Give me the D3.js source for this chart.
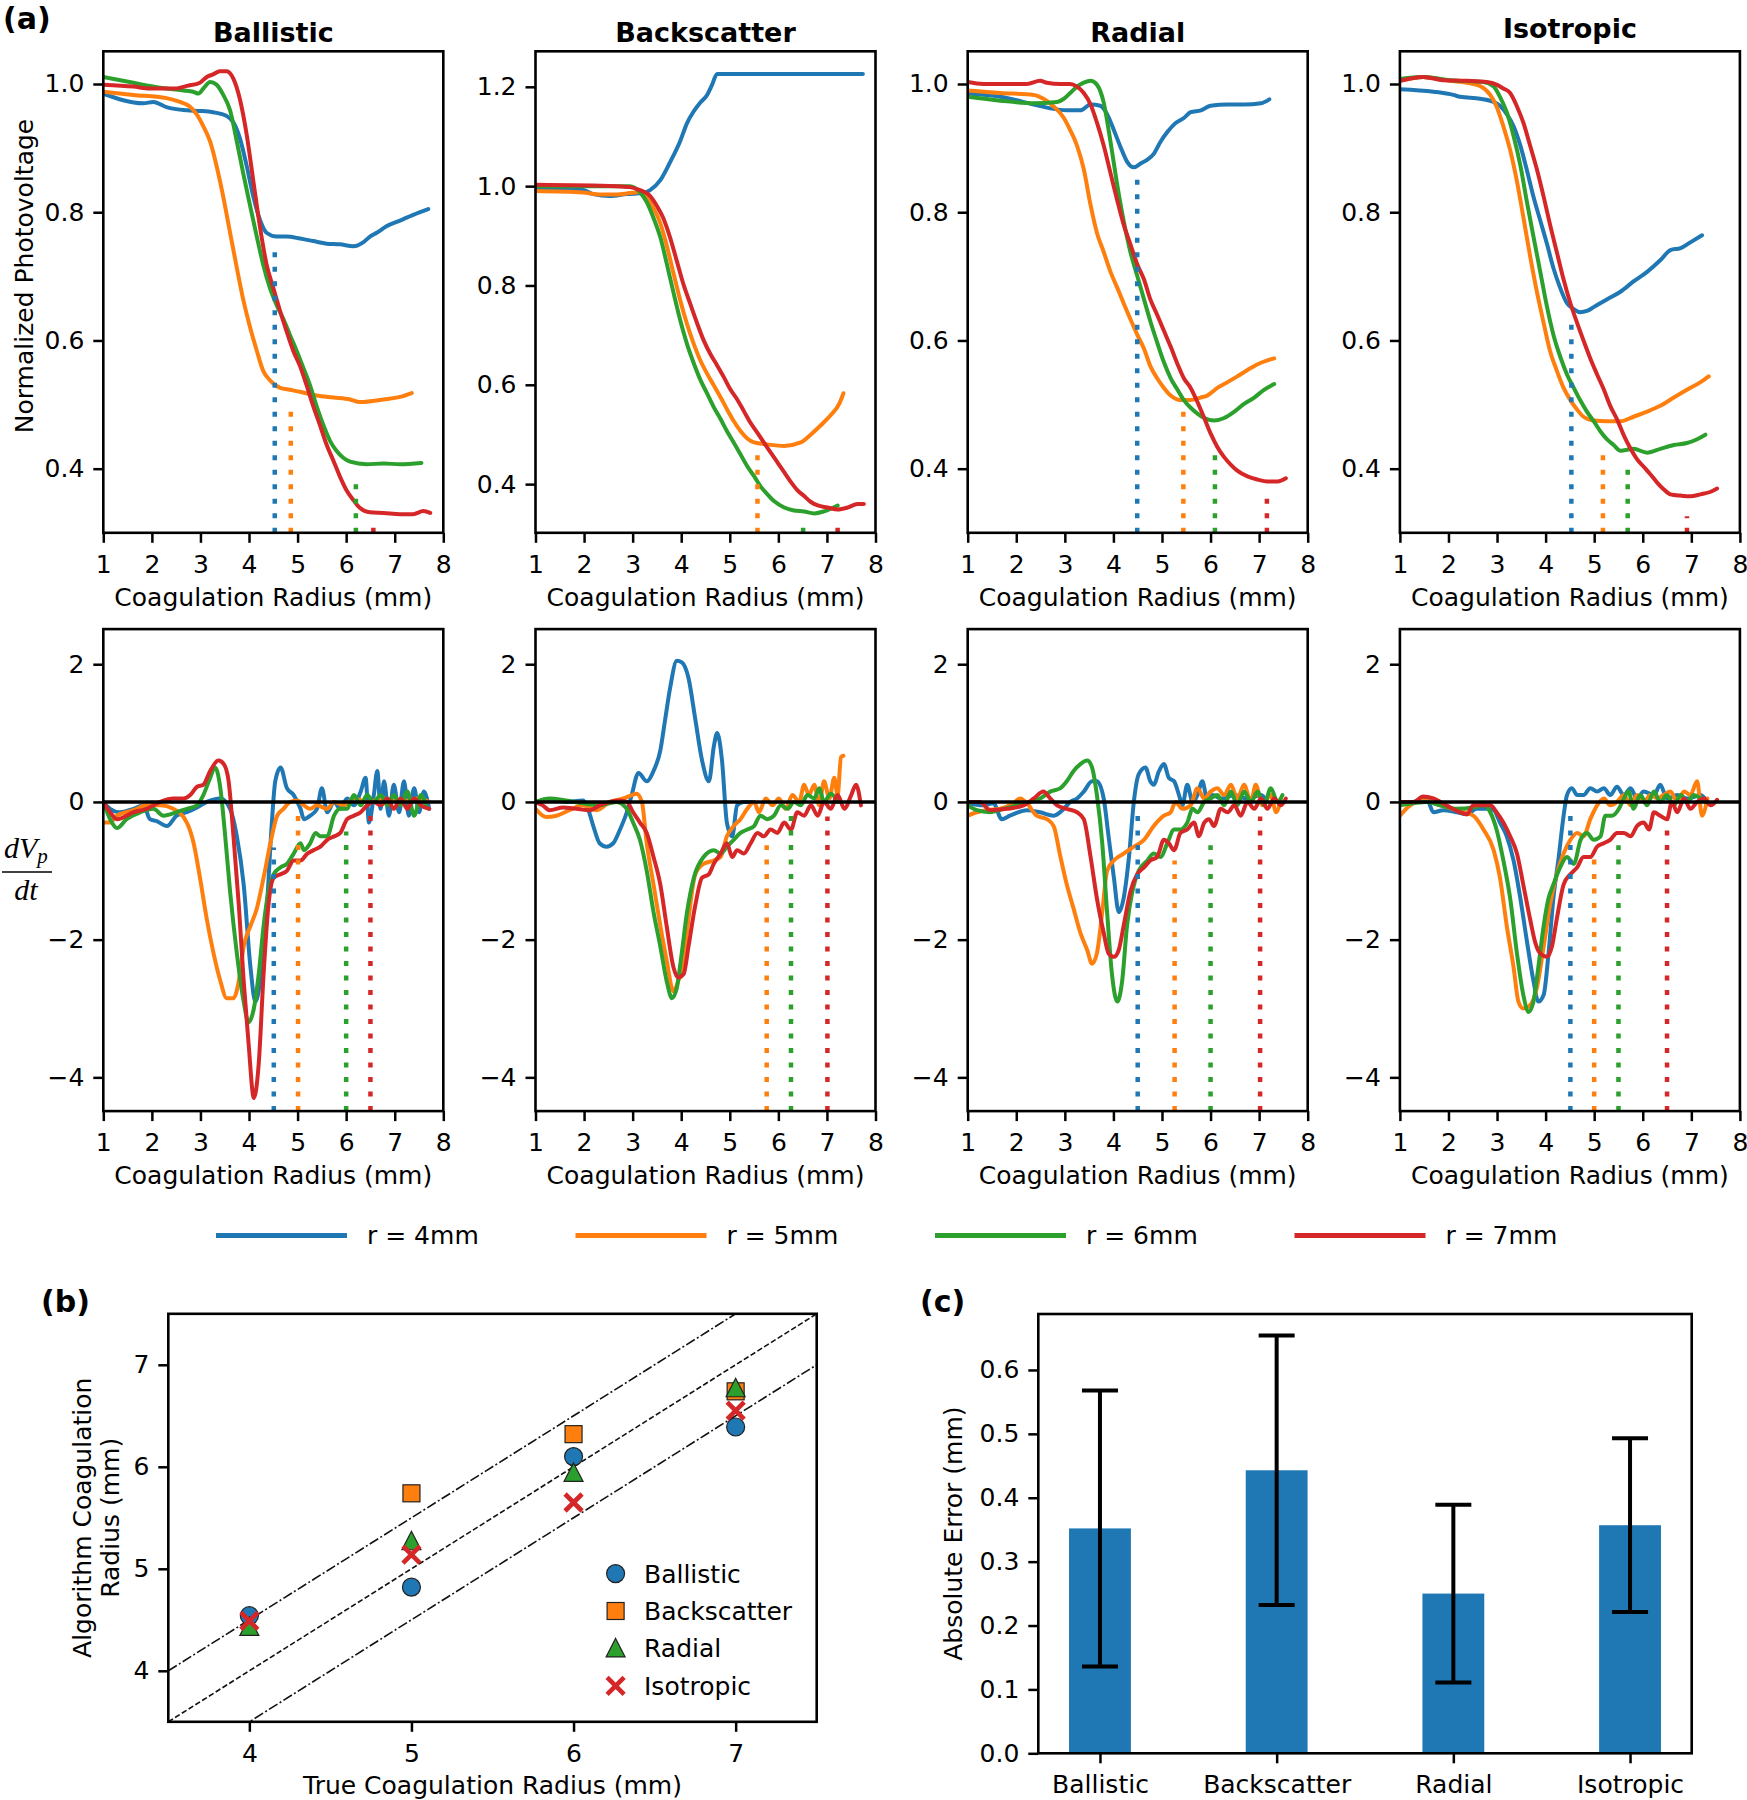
<!DOCTYPE html>
<html><head><meta charset="utf-8">
<script src="https://cdn.jsdelivr.net/npm/d3@7"></script>
<style>body{margin:0;background:#fff}</style>
</head><body>
<svg id="c" width="1747" height="1800" xmlns="http://www.w3.org/2000/svg"></svg>
<script>
// ---------------- DATA ----------------
const colors = ["#1f77b4","#ff7f0e","#2ca02c","#d62728"];
const seriesLabels = ["r = 4mm","r = 5mm","r = 6mm","r = 7mm"];
const methods = ["Ballistic","Backscatter","Radial","Isotropic"];
const radiusTicks = [1,2,3,4,5,6,7,8];
const radiusDomain = [1,8];

// normalized photovoltage (top row)
const vBallistic4 = [[1,0.985],[1.82,0.97],[2.03,0.972],[2.3,0.964],[2.72,0.959],[2.99,0.958],[3.26,0.956],[3.54,0.95],[3.68,0.94],[3.81,0.916],[3.95,0.873],[4.09,0.824],[4.23,0.787],[4.36,0.768],[4.57,0.762],[4.77,0.762],[5.05,0.759],[5.32,0.755],[5.6,0.751],[5.87,0.75],[6.15,0.747],[6.35,0.753],[6.49,0.762],[6.63,0.768],[6.83,0.778],[7.11,0.787],[7.38,0.796],[7.69,0.805]];
const vBallistic5 = [[1,0.988],[1.62,0.983],[2.3,0.978],[2.58,0.972],[2.78,0.965],[2.92,0.953],[3.06,0.934],[3.2,0.91],[3.33,0.873],[3.47,0.824],[3.61,0.768],[3.75,0.713],[3.88,0.664],[4.02,0.621],[4.16,0.584],[4.29,0.553],[4.43,0.538],[4.64,0.526],[4.84,0.523],[5.05,0.52],[5.39,0.514],[5.74,0.511],[6.08,0.508],[6.28,0.504],[6.77,0.508],[7.11,0.512],[7.35,0.518]];
const vBallistic6 = [[1,1.011],[1.62,1.002],[1.96,0.997],[2.3,0.993],[2.65,0.99],[2.85,0.988],[2.96,0.985],[3.06,0.993],[3.2,1.003],[3.33,0.999],[3.47,0.983],[3.61,0.959],[3.75,0.91],[3.88,0.861],[4.02,0.811],[4.16,0.762],[4.29,0.719],[4.43,0.682],[4.57,0.655],[4.71,0.633],[4.84,0.609],[4.98,0.584],[5.12,0.557],[5.26,0.529],[5.39,0.498],[5.53,0.468],[5.67,0.443],[5.8,0.428],[5.94,0.417],[6.08,0.411],[6.42,0.407],[6.77,0.408],[7.11,0.407],[7.55,0.409]];
const vBallistic7 = [[1,0.999],[1.62,0.996],[1.96,0.993],[2.51,0.993],[2.72,0.997],[2.99,1.002],[3.13,1.011],[3.26,1.015],[3.4,1.02],[3.54,1.02],[3.68,1.008],[3.81,0.977],[3.95,0.922],[4.09,0.848],[4.23,0.775],[4.36,0.719],[4.5,0.682],[4.64,0.646],[4.77,0.615],[4.91,0.584],[5.05,0.56],[5.19,0.529],[5.32,0.498],[5.46,0.468],[5.6,0.437],[5.74,0.412],[5.87,0.388],[6.01,0.366],[6.15,0.351],[6.28,0.339],[6.49,0.332],[6.77,0.331],[7.11,0.329],[7.38,0.329],[7.59,0.334],[7.73,0.331]];

const vBackscatter4 = [[1,0.995],[1.98,0.992],[2.19,0.984],[2.53,0.98],[2.88,0.984],[3.22,0.986],[3.36,0.992],[3.57,1.012],[3.77,1.048],[3.98,1.091],[4.12,1.127],[4.26,1.151],[4.39,1.168],[4.53,1.183],[4.63,1.203],[4.74,1.226],[7.74,1.226]];
const vBackscatter5 = [[1,0.99],[1.98,0.987],[2.32,0.983],[2.67,0.983],[2.94,0.986],[3.15,0.988],[3.29,0.976],[3.43,0.956],[3.57,0.925],[3.7,0.881],[3.84,0.825],[3.98,0.77],[4.12,0.722],[4.26,0.682],[4.39,0.65],[4.53,0.623],[4.67,0.599],[4.81,0.575],[4.94,0.551],[5.08,0.527],[5.22,0.507],[5.36,0.492],[5.5,0.484],[5.77,0.48],[6.12,0.477],[6.46,0.484],[6.67,0.5],[6.88,0.519],[7.08,0.539],[7.26,0.563],[7.34,0.583]];
const vBackscatter6 = [[1,1.0],[2.67,1.0],[2.94,1.0],[3.15,0.988],[3.29,0.968],[3.43,0.936],[3.57,0.897],[3.7,0.845],[3.84,0.786],[3.98,0.73],[4.12,0.682],[4.26,0.643],[4.39,0.611],[4.53,0.583],[4.67,0.555],[4.81,0.531],[4.94,0.507],[5.08,0.484],[5.22,0.46],[5.36,0.436],[5.5,0.416],[5.63,0.396],[5.77,0.38],[5.91,0.366],[6.12,0.353],[6.32,0.347],[6.53,0.345],[6.74,0.341],[6.94,0.345],[7.22,0.357]];
const vBackscatter7 = [[1,1.003],[2.67,1.0],[2.94,0.998],[3.15,0.992],[3.36,0.98],[3.5,0.96],[3.63,0.936],[3.77,0.897],[3.91,0.849],[4.05,0.801],[4.19,0.762],[4.32,0.726],[4.46,0.69],[4.6,0.662],[4.74,0.639],[4.88,0.615],[5.01,0.591],[5.15,0.571],[5.29,0.547],[5.43,0.523],[5.57,0.503],[5.7,0.484],[5.84,0.464],[5.98,0.444],[6.12,0.424],[6.26,0.404],[6.39,0.388],[6.53,0.376],[6.67,0.364],[6.81,0.357],[7.01,0.353],[7.22,0.349],[7.43,0.353],[7.63,0.36],[7.76,0.36]];

const vRadial4 = [[1,0.985],[1.67,0.98],[2.36,0.968],[2.7,0.962],[3.04,0.959],[3.32,0.959],[3.53,0.968],[3.73,0.966],[3.87,0.953],[4.01,0.928],[4.15,0.901],[4.28,0.879],[4.42,0.87],[4.56,0.876],[4.7,0.882],[4.83,0.891],[4.97,0.91],[5.11,0.925],[5.25,0.937],[5.45,0.947],[5.59,0.956],[5.8,0.959],[6.0,0.966],[6.35,0.968],[6.69,0.968],[7.04,0.97],[7.21,0.976]];
const vRadial5 = [[1,0.99],[1.67,0.986],[2.36,0.983],[2.56,0.977],[2.77,0.965],[2.98,0.947],[3.11,0.928],[3.25,0.904],[3.39,0.867],[3.53,0.811],[3.66,0.768],[3.8,0.738],[3.94,0.707],[4.08,0.682],[4.21,0.658],[4.35,0.633],[4.49,0.609],[4.63,0.587],[4.76,0.56],[4.9,0.541],[5.04,0.526],[5.18,0.514],[5.38,0.507],[5.59,0.507],[5.8,0.511],[5.93,0.514],[6.14,0.526],[6.35,0.535],[6.55,0.544],[6.76,0.554],[6.97,0.563],[7.17,0.569],[7.31,0.572]];
const vRadial6 = [[1,0.98],[1.67,0.974],[2.36,0.97],[2.84,0.972],[2.98,0.977],[3.11,0.986],[3.25,0.996],[3.39,1.002],[3.53,1.005],[3.66,0.999],[3.8,0.971],[3.94,0.91],[4.08,0.842],[4.21,0.787],[4.35,0.738],[4.49,0.701],[4.63,0.664],[4.76,0.63],[4.9,0.597],[5.04,0.566],[5.18,0.541],[5.32,0.523],[5.45,0.507],[5.59,0.495],[5.73,0.486],[5.87,0.479],[6.07,0.475],[6.28,0.479],[6.49,0.489],[6.69,0.501],[6.9,0.511],[7.1,0.523],[7.31,0.532]];
const vRadial7 = [[1,1.003],[1.32,1.0],[2.22,1.0],[2.49,1.005],[2.63,1.002],[2.91,1.0],[3.11,1.0],[3.25,0.996],[3.39,0.986],[3.53,0.968],[3.66,0.94],[3.8,0.904],[3.94,0.861],[4.08,0.818],[4.21,0.781],[4.35,0.75],[4.49,0.719],[4.63,0.695],[4.76,0.664],[4.9,0.64],[5.04,0.615],[5.18,0.59],[5.32,0.563],[5.45,0.541],[5.59,0.526],[5.73,0.504],[5.87,0.479],[6.0,0.455],[6.14,0.434],[6.28,0.418],[6.42,0.406],[6.55,0.397],[6.76,0.388],[6.97,0.383],[7.17,0.38],[7.38,0.38],[7.55,0.385]];

const vIsotropic4 = [[1,0.992],[1.69,0.988],[2.1,0.983],[2.24,0.98],[2.65,0.977],[2.93,0.972],[3.06,0.966],[3.2,0.953],[3.34,0.934],[3.48,0.904],[3.61,0.867],[3.75,0.824],[3.89,0.787],[4.03,0.75],[4.16,0.713],[4.3,0.682],[4.44,0.658],[4.58,0.649],[4.71,0.644],[4.85,0.646],[4.99,0.652],[5.26,0.664],[5.54,0.676],[5.81,0.692],[6.09,0.707],[6.36,0.725],[6.57,0.741],[6.78,0.744],[6.98,0.753],[7.22,0.764]];
const vIsotropic5 = [[1,1.005],[1.48,1.011],[2.03,1.005],[2.38,1.002],[2.65,0.997],[2.86,0.983],[2.99,0.965],[3.13,0.934],[3.27,0.897],[3.41,0.848],[3.54,0.793],[3.68,0.732],[3.82,0.676],[3.96,0.627],[4.09,0.584],[4.23,0.553],[4.37,0.526],[4.51,0.507],[4.65,0.492],[4.78,0.481],[4.99,0.475],[5.26,0.474],[5.54,0.474],[5.81,0.481],[6.09,0.489],[6.36,0.498],[6.64,0.511],[6.91,0.523],[7.19,0.535],[7.36,0.544]];
const vIsotropic6 = [[1,1.008],[1.48,1.011],[2.03,1.006],[2.72,1.003],[2.93,0.996],[3.06,0.98],[3.2,0.956],[3.34,0.919],[3.48,0.873],[3.61,0.818],[3.75,0.762],[3.89,0.707],[4.03,0.652],[4.16,0.609],[4.3,0.575],[4.44,0.547],[4.58,0.526],[4.71,0.507],[4.85,0.489],[4.99,0.474],[5.13,0.458],[5.26,0.446],[5.4,0.437],[5.54,0.428],[5.81,0.431],[6.09,0.425],[6.36,0.431],[6.64,0.437],[6.91,0.44],[7.12,0.446],[7.29,0.453]];
const vIsotropic7 = [[1,1.005],[1.48,1.011],[1.89,1.006],[2.38,1.005],[2.79,1.003],[2.99,0.999],[3.13,0.993],[3.27,0.986],[3.41,0.965],[3.54,0.94],[3.68,0.904],[3.82,0.867],[3.96,0.824],[4.09,0.781],[4.23,0.738],[4.37,0.695],[4.51,0.658],[4.65,0.627],[4.78,0.6],[4.92,0.572],[5.06,0.547],[5.2,0.523],[5.33,0.498],[5.47,0.477],[5.61,0.452],[5.75,0.431],[5.88,0.415],[6.02,0.403],[6.16,0.391],[6.3,0.378],[6.43,0.368],[6.57,0.36],[6.78,0.358],[6.98,0.357],[7.19,0.36],[7.4,0.364],[7.53,0.369]];

// detected radius markers (x, top value) for top row
const markVBallistic = [[4.53,0.747],[4.86,0.501],[6.2,0.388],[6.56,0.321]];
const markVBackscatter = [null,[5.57,0.476],[6.51,0.33],[7.22,0.33]];
const markVRadial = [[4.49,0.861],[5.44,0.498],[6.09,0.434],[7.16,0.366]];
const markVIsotropic = [[4.53,0.633],[5.18,0.434],[5.69,0.412],[6.91,0.326]];

// derivative dVp/dt (bottom row)
const dBallistic4 = [[1,0],[1.14,-0.1],[1.34,-0.15],[1.62,-0.1],[1.83,-0.05],[1.96,-0.25],[2.1,-0.28],[2.31,-0.35],[2.51,-0.2],[2.72,-0.15],[2.93,-0.08],[3.13,0],[3.41,0.05],[3.61,-0.1],[3.75,-0.5],[3.89,-1.2],[4.03,-2.4],[4.13,-2.9],[4.23,-2.6],[4.37,-1.5],[4.47,-0.3],[4.54,0.3],[4.65,0.5],[4.78,0.2],[4.92,0.1],[5.06,-0.1],[5.13,-0.25],[5.26,-0.2],[5.4,-0.1],[5.5,0.2],[5.61,-0.15],[5.75,0],[5.88,-0.1],[6.02,0.05],[6.16,-0.05],[6.3,0.15],[6.4,0.35],[6.47,-0.3],[6.57,0.1],[6.64,0.45],[6.71,-0.1],[6.78,0.3],[6.88,-0.2],[6.98,0.25],[7.09,-0.15],[7.19,0.3],[7.29,-0.2],[7.4,0.2],[7.5,-0.15],[7.6,0.15],[7.71,-0.1]];
const dBallistic5 = [[1,-0.3],[1.14,-0.3],[1.28,-0.2],[1.62,-0.12],[1.89,-0.05],[2.17,-0.05],[2.44,-0.1],[2.72,-0.3],[2.86,-0.6],[2.99,-1.1],[3.13,-1.7],[3.27,-2.2],[3.41,-2.6],[3.54,-2.85],[3.68,-2.85],[3.79,-2.6],[3.89,-2.1],[4.03,-1.8],[4.16,-1.55],[4.3,-1.1],[4.44,-0.6],[4.58,-0.2],[4.71,-0.1],[4.85,0],[4.99,0.02],[5.13,-0.05],[5.26,-0.1],[5.4,-0.05],[5.61,-0.1],[5.75,0],[5.95,-0.05],[6.16,0.05],[6.43,0],[6.78,0.05],[7.12,0],[7.46,0.05],[7.71,0]];
const dBallistic6 = [[1,0],[1.14,-0.25],[1.28,-0.38],[1.48,-0.25],[1.76,-0.15],[2.03,-0.1],[2.24,-0.2],[2.51,-0.15],[2.72,-0.1],[2.93,-0.05],[3.06,0.1],[3.2,0.35],[3.3,0.5],[3.41,0.2],[3.51,-0.5],[3.61,-1.3],[3.75,-2.2],[3.89,-2.9],[3.99,-3.2],[4.1,-3.0],[4.2,-2.5],[4.3,-1.8],[4.4,-1.3],[4.51,-1.05],[4.65,-0.95],[4.78,-0.9],[4.92,-0.75],[5.06,-0.6],[5.13,-0.7],[5.26,-0.6],[5.37,-0.45],[5.47,-0.5],[5.61,-0.5],[5.75,-0.2],[5.88,-0.1],[6.02,-0.1],[6.16,0.1],[6.3,-0.05],[6.43,0.1],[6.57,0],[6.71,0.1],[6.85,-0.05],[6.98,0.1],[7.12,-0.05],[7.26,0.15],[7.4,-0.2],[7.54,0.1],[7.64,-0.05]];
const dBallistic7 = [[1,0],[1.14,-0.15],[1.28,-0.25],[1.62,-0.15],[1.89,-0.1],[2.17,0],[2.44,0.05],[2.65,0.05],[2.79,0.1],[2.93,0.22],[3.06,0.25],[3.2,0.45],[3.37,0.6],[3.48,0.55],[3.58,0.3],[3.68,-0.5],[3.79,-1.5],[3.89,-2.6],[3.99,-3.5],[4.1,-4.3],[4.2,-3.8],[4.3,-2.5],[4.4,-1.5],[4.51,-1.1],[4.65,-1.05],[4.78,-1.0],[4.92,-0.85],[5.06,-0.85],[5.2,-0.75],[5.33,-0.7],[5.47,-0.65],[5.61,-0.55],[5.75,-0.5],[5.88,-0.45],[6.02,-0.25],[6.16,-0.2],[6.3,-0.15],[6.43,-0.05],[6.57,0],[6.71,-0.05],[6.85,0.05],[6.98,-0.1],[7.12,0.05],[7.26,-0.1],[7.4,0.05],[7.54,-0.05],[7.71,-0.1]];

const dBackscatter4 = [[1,0],[1.29,0.03],[1.63,0],[1.98,0.02],[2.08,-0.1],[2.19,-0.35],[2.32,-0.6],[2.46,-0.65],[2.6,-0.6],[2.74,-0.4],[2.88,-0.15],[2.98,0.1],[3.12,0.42],[3.29,0.3],[3.43,0.45],[3.57,0.75],[3.67,1.2],[3.77,1.65],[3.91,2.05],[4.01,2.03],[4.15,1.8],[4.29,1.2],[4.43,0.6],[4.57,0.3],[4.67,0.8],[4.74,1.0],[4.84,0.6],[4.94,-0.3],[5.05,-0.5],[5.15,-0.05],[5.29,0],[5.5,0]];
const dBackscatter5 = [[1,-0.1],[1.22,-0.22],[1.43,-0.2],[1.7,-0.12],[1.98,-0.05],[2.26,-0.12],[2.53,0],[2.81,0.05],[2.98,0.1],[3.08,0.12],[3.19,0],[3.29,-0.6],[3.43,-1.2],[3.57,-1.8],[3.7,-2.3],[3.84,-2.75],[3.94,-2.6],[4.05,-2.3],[4.15,-1.7],[4.29,-1.05],[4.46,-0.9],[4.67,-0.85],[4.81,-0.8],[4.94,-0.5],[5.08,-0.35],[5.22,-0.25],[5.36,-0.1],[5.5,0],[5.6,-0.15],[5.74,0.05],[5.88,-0.05],[6.01,0.05],[6.15,-0.1],[6.29,0.1],[6.43,0],[6.53,0.25],[6.63,0.1],[6.74,0.25],[6.84,-0.05],[6.94,0.3],[7.05,0.05],[7.15,0.35],[7.22,0.1],[7.29,0.65],[7.34,0.67]];
const dBackscatter6 = [[1,0],[1.29,0.05],[1.63,0.02],[1.98,-0.02],[2.32,-0.05],[2.67,0],[2.88,-0.1],[3.01,-0.3],[3.15,-0.55],[3.29,-1.0],[3.43,-1.6],[3.57,-2.1],[3.7,-2.6],[3.81,-2.85],[3.91,-2.7],[4.01,-2.2],[4.12,-1.6],[4.26,-1.1],[4.46,-0.8],[4.67,-0.7],[4.81,-0.75],[4.94,-0.65],[5.08,-0.55],[5.22,-0.45],[5.36,-0.4],[5.5,-0.35],[5.63,-0.2],[5.77,-0.25],[5.91,-0.2],[6.05,-0.05],[6.19,-0.1],[6.32,0],[6.46,-0.05],[6.6,0.1],[6.74,0.05],[6.84,0.2],[6.94,0],[7.08,0.12],[7.22,0]];
const dBackscatter7 = [[1,0],[1.15,-0.05],[1.29,-0.12],[1.57,-0.08],[1.84,-0.1],[2.12,-0.12],[2.32,-0.05],[2.53,0],[2.74,0.02],[2.88,0],[3.01,-0.15],[3.15,-0.3],[3.29,-0.45],[3.43,-0.8],[3.57,-1.2],[3.7,-1.8],[3.84,-2.4],[3.94,-2.55],[4.05,-2.5],[4.15,-2.1],[4.29,-1.5],[4.43,-1.1],[4.57,-1.05],[4.67,-0.9],[4.81,-0.75],[4.94,-0.6],[5.05,-0.8],[5.15,-0.7],[5.29,-0.75],[5.43,-0.6],[5.57,-0.45],[5.7,-0.5],[5.84,-0.4],[5.98,-0.45],[6.12,-0.3],[6.26,-0.4],[6.39,-0.15],[6.53,-0.2],[6.67,-0.05],[6.81,-0.2],[6.94,0],[7.08,-0.1],[7.22,0.1],[7.36,-0.1],[7.5,0.1],[7.6,0.25],[7.7,-0.05]];

const dRadial4 = [[1,-0.02],[1.32,-0.05],[1.53,-0.02],[1.7,-0.25],[1.87,-0.2],[2.22,-0.12],[2.49,-0.15],[2.77,-0.2],[2.98,-0.1],[3.11,0],[3.25,0.05],[3.39,0.15],[3.56,0.3],[3.66,0.3],[3.8,0.05],[3.9,-0.5],[4.01,-1.1],[4.11,-1.6],[4.21,-1.4],[4.32,-0.8],[4.42,0],[4.52,0.4],[4.66,0.5],[4.76,0.3],[4.83,0.25],[4.94,0.45],[5.04,0.55],[5.14,0.35],[5.25,0.3],[5.35,0.1],[5.42,-0.05],[5.52,0.25],[5.63,0],[5.73,0.1],[5.83,0.3],[5.93,0.05],[6.04,0.1],[6.21,0.05],[6.49,0.1],[6.76,0.05],[7.04,0.1],[7.17,0]];
const dRadial5 = [[1,-0.2],[1.19,-0.15],[1.39,-0.12],[1.67,-0.1],[1.94,-0.02],[2.08,0.05],[2.22,-0.02],[2.42,-0.2],[2.63,-0.25],[2.77,-0.35],[2.91,-0.8],[3.04,-1.2],[3.18,-1.55],[3.32,-1.9],[3.46,-2.15],[3.56,-2.35],[3.66,-2.2],[3.77,-1.6],[3.87,-1.0],[4.01,-0.85],[4.21,-0.75],[4.42,-0.65],[4.63,-0.55],[4.83,-0.35],[5.04,-0.2],[5.18,-0.15],[5.28,0],[5.42,-0.1],[5.59,-0.05],[5.73,0.2],[5.87,0.05],[6.0,0.15],[6.14,0.2],[6.28,0.1],[6.42,0.25],[6.55,0.05],[6.69,0.25],[6.83,0],[6.93,0.25],[7.07,-0.05],[7.24,0.1],[7.35,-0.15],[7.45,0.05]];
const dRadial6 = [[1,-0.05],[1.19,-0.12],[1.46,-0.15],[1.74,-0.1],[2.01,-0.05],[2.29,0],[2.49,0.05],[2.7,0.15],[2.91,0.2],[3.04,0.3],[3.18,0.45],[3.32,0.55],[3.46,0.6],[3.56,0.5],[3.66,0.1],[3.77,-0.6],[3.87,-1.6],[3.97,-2.5],[4.08,-2.9],[4.18,-2.6],[4.28,-1.8],[4.39,-1.3],[4.52,-1.0],[4.7,-0.85],[4.83,-0.75],[4.97,-0.8],[5.11,-0.6],[5.25,-0.4],[5.38,-0.4],[5.52,-0.3],[5.63,-0.1],[5.73,-0.15],[5.87,0],[6.0,0.05],[6.14,0.1],[6.28,-0.05],[6.42,0.15],[6.55,-0.05],[6.69,0.15],[6.83,0],[6.97,0.15],[7.1,-0.05],[7.24,0.2],[7.38,0],[7.48,0.1]];
const dRadial7 = [[1,0],[1.25,0],[1.46,-0.12],[1.81,-0.1],[2.15,-0.05],[2.36,0.05],[2.56,0.15],[2.7,0.05],[2.84,-0.05],[3.04,-0.1],[3.25,-0.15],[3.39,-0.25],[3.53,-0.8],[3.66,-1.4],[3.8,-1.9],[3.9,-2.2],[4.01,-2.25],[4.11,-2.15],[4.21,-1.8],[4.35,-1.3],[4.49,-1.05],[4.63,-0.95],[4.76,-0.85],[4.9,-0.8],[5.04,-0.55],[5.14,-0.6],[5.25,-0.7],[5.38,-0.45],[5.52,-0.4],[5.66,-0.3],[5.76,-0.5],[5.87,-0.3],[5.97,-0.25],[6.07,-0.35],[6.21,-0.1],[6.35,-0.15],[6.49,-0.05],[6.62,-0.2],[6.76,0],[6.9,-0.1],[7.04,0.05],[7.17,-0.1],[7.31,0.05],[7.45,-0.05],[7.55,0.05]];

const dIsotropic4 = [[1,-0.02],[1.28,0],[1.55,0.05],[1.69,-0.15],[1.89,-0.12],[2.17,-0.15],[2.38,-0.18],[2.58,-0.1],[2.79,-0.1],[2.93,-0.12],[3.06,-0.3],[3.2,-0.5],[3.34,-0.85],[3.48,-1.4],[3.61,-2.0],[3.75,-2.6],[3.85,-2.9],[3.96,-2.8],[4.06,-2.2],[4.16,-1.4],[4.27,-0.8],[4.37,-0.2],[4.44,0.1],[4.54,0.2],[4.65,0.1],[4.78,0.1],[4.92,0.2],[5.06,0.15],[5.2,0.2],[5.33,0.1],[5.47,0.22],[5.61,0.1],[5.75,0.2],[5.88,0.05],[6.02,0.15],[6.23,0.1],[6.36,0.25],[6.5,0.05],[6.71,0.1],[6.92,0.05],[7.19,0.1],[7.33,0]];
const dIsotropic5 = [[1,-0.2],[1.21,-0.05],[1.48,0.02],[1.83,-0.05],[2.17,-0.12],[2.51,-0.2],[2.72,-0.4],[2.93,-0.7],[3.06,-1.1],[3.2,-1.8],[3.34,-2.4],[3.44,-2.9],[3.54,-3.0],[3.68,-2.95],[3.82,-2.7],[3.96,-2.1],[4.09,-1.5],[4.23,-1.05],[4.37,-0.75],[4.51,-0.55],[4.65,-0.45],[4.78,-0.5],[4.92,-0.25],[5.06,-0.05],[5.2,0.05],[5.33,-0.05],[5.47,0],[5.61,0.1],[5.75,-0.05],[5.88,0.1],[6.02,0],[6.16,0.1],[6.3,0.05],[6.43,0.1],[6.57,0.15],[6.71,0],[6.85,0.15],[6.98,0.1],[7.12,0.3],[7.22,-0.2],[7.33,0.05]];
const dIsotropic6 = [[1,-0.05],[1.28,-0.02],[1.55,0],[1.83,-0.05],[2.17,-0.1],[2.51,-0.08],[2.72,-0.05],[2.86,-0.15],[2.99,-0.4],[3.13,-0.85],[3.27,-1.4],[3.41,-2.2],[3.54,-2.8],[3.65,-3.05],[3.75,-2.9],[3.85,-2.4],[3.96,-1.8],[4.06,-1.4],[4.16,-1.2],[4.3,-0.95],[4.44,-0.8],[4.58,-0.9],[4.72,-0.55],[4.85,-0.45],[4.99,-0.55],[5.13,-0.5],[5.23,-0.2],[5.37,-0.2],[5.51,-0.1],[5.61,0.05],[5.71,0.15],[5.81,-0.1],[5.95,0.1],[6.09,-0.05],[6.23,0.15],[6.36,0],[6.5,0.1],[6.64,-0.05],[6.78,0.1],[6.92,0],[7.05,0.1],[7.19,0.05],[7.29,0]];
const dIsotropic7 = [[1,0],[1.28,0],[1.48,0.08],[1.69,0.05],[1.96,-0.05],[2.24,-0.15],[2.38,-0.18],[2.51,-0.05],[2.65,-0.05],[2.86,-0.05],[2.99,-0.15],[3.13,-0.3],[3.27,-0.5],[3.41,-0.75],[3.54,-1.2],[3.68,-1.7],[3.79,-2.05],[3.89,-2.2],[4.03,-2.25],[4.13,-2.1],[4.23,-1.7],[4.37,-1.2],[4.51,-1.05],[4.65,-0.95],[4.78,-0.8],[4.92,-0.8],[5.06,-0.65],[5.2,-0.6],[5.33,-0.55],[5.47,-0.45],[5.61,-0.45],[5.75,-0.5],[5.88,-0.35],[6.02,-0.3],[6.13,-0.4],[6.23,-0.15],[6.36,-0.2],[6.5,-0.25],[6.6,0],[6.71,-0.15],[6.85,0.05],[6.98,-0.1],[7.12,0],[7.26,0.05],[7.4,-0.05],[7.53,0.03]];

const markDBallistic = [[4.51,-0.66],[5.01,-0.13],[6.0,-0.43],[6.5,-0.13]];
const markDBackscatter = [null,[5.76,-0.63],[6.26,-0.1],[7.01,-0.21]];
const markDRadial = [[4.5,-0.07],[5.26,-0.85],[6.0,-0.63],[7.02,-0.21]];
const markDIsotropic = [[4.51,-0.1],[5.0,-0.82],[5.5,-0.63],[6.5,-0.27]];

const vDomains = [[0.3,1.051],[0.302,1.2715],[0.3,1.051],[0.3,1.051]];
const vTickValues = [[0.4,0.6,0.8,1.0],[0.4,0.6,0.8,1.0,1.2],[0.4,0.6,0.8,1.0],[0.4,0.6,0.8,1.0]];
const dDomain = [-4.49,2.51];
const dTickValues = [-4,-2,0,2];

// (b) scatter
const trueRadius = [4,5,6,7];
const estBallistic = [4.54,4.82,6.10,6.39];
const estBackscatter = [null,5.74,6.32,6.74];
const estRadial = [4.43,5.27,5.94,6.77];
const estIsotropic = [4.49,5.14,5.65,6.55];
const scatterDomain = [3.5,7.5];
const scatterTicks = [4,5,6,7];
const refOffsets = [0.5,0,-0.5];

// (c) bars
const errMean = [0.352,0.443,0.250,0.357];
const errStd = [0.216,0.211,0.139,0.136];
const errDomain = [0,0.6876];
const errTicks = [0,0.1,0.2,0.3,0.4,0.5,0.6];

// ---------------- DRAW ----------------
const FONT = "'DejaVu Sans', Verdana, sans-serif";
const svg = d3.select("#c");
svg.append("rect").attr("width",1747).attr("height",1800).attr("fill","#fff");

function styleAxis(sel){
  sel.select(".domain").remove();
  sel.selectAll(".tick line").attr("stroke","#000").attr("stroke-width",2.5);
  sel.selectAll(".tick text").attr("fill","#000").attr("font-size",25).attr("font-family",FONT);
}
function frame(g,x0,y0,w,h){
  g.append("rect").attr("x",x0).attr("y",y0).attr("width",w).attr("height",h)
    .attr("fill","none").attr("stroke","#000").attr("stroke-width",2.6);
}
let clipId = 0;
function clip(x0,y0,w,h){
  const id = "clip"+(clipId++);
  svg.append("clipPath").attr("id",id).append("rect").attr("x",x0).attr("y",y0).attr("width",w).attr("height",h);
  return "url(#"+id+")";
}

const vSeries = [[vBallistic4,vBallistic5,vBallistic6,vBallistic7],[vBackscatter4,vBackscatter5,vBackscatter6,vBackscatter7],[vRadial4,vRadial5,vRadial6,vRadial7],[vIsotropic4,vIsotropic5,vIsotropic6,vIsotropic7]];
const dSeries = [[dBallistic4,dBallistic5,dBallistic6,dBallistic7],[dBackscatter4,dBackscatter5,dBackscatter6,dBackscatter7],[dRadial4,dRadial5,dRadial6,dRadial7],[dIsotropic4,dIsotropic5,dIsotropic6,dIsotropic7]];
const vMarks = [markVBallistic,markVBackscatter,markVRadial,markVIsotropic];
const dMarks = [markDBallistic,markDBackscatter,markDRadial,markDIsotropic];

const panelLeft0 = 103.3, panelStep = 432.2, panelW = 340;
const rows = [
  {y0:51.3, y1:532.8, series:vSeries, marks:vMarks, domains:vDomains, ticks:vTickValues, fmt:d3.format(".1f"), zero:false},
  {y0:629.1, y1:1111.1, series:dSeries, marks:dMarks, domains:methods.map(()=>dDomain), ticks:methods.map(()=>dTickValues), fmt:d3.format("d"), zero:true}
];

rows.forEach(row=>{
  methods.forEach((m,pi)=>{
    const x0 = panelLeft0 + pi*panelStep, x1 = x0+panelW;
    const g = svg.append("g");
    const x = d3.scaleLinear().domain(radiusDomain).range([x0,x1]);
    const y = d3.scaleLinear().domain(row.domains[pi]).range([row.y1,row.y0]);
    const cp = clip(x0,row.y0,panelW,row.y1-row.y0);
    const dg = g.append("g").attr("clip-path",cp);
    const line = d3.line().x(d=>x(d[0])).y(d=>y(d[1])).curve(d3.curveMonotoneX);
    row.series[pi].forEach((s,si)=>{
      dg.append("path").attr("d",line(s)).attr("fill","none").attr("stroke",colors[si])
        .attr("stroke-width",4).attr("stroke-linejoin","round").attr("stroke-linecap","round");
    });
    row.marks[pi].forEach((mk,si)=>{
      if(!mk) return;
      dg.append("line").attr("x1",x(mk[0])).attr("x2",x(mk[0]))
        .attr("y1",y(row.domains[pi][0])).attr("y2",y(mk[1]))
        .attr("stroke",colors[si]).attr("stroke-width",4.5).attr("stroke-dasharray","5,9.5");
    });
    if(row.zero){
      dg.append("line").attr("x1",x(radiusDomain[0])).attr("x2",x(radiusDomain[1]))
        .attr("y1",y(0)).attr("y2",y(0)).attr("stroke","#000").attr("stroke-width",3.5);
    }
    g.append("g").attr("transform",`translate(0,${row.y1})`)
      .call(d3.axisBottom(x).tickValues(radiusTicks).tickFormat(d3.format("d")).tickSize(10).tickSizeOuter(0).tickPadding(12))
      .call(styleAxis);
    g.append("g").attr("transform",`translate(${x0},0)`)
      .call(d3.axisLeft(y).tickValues(row.ticks[pi]).tickFormat(row.fmt).tickSize(10).tickSizeOuter(0).tickPadding(9))
      .call(styleAxis);
    frame(g,x0,row.y0,panelW,row.y1-row.y0);
    g.append("text").attr("x",(x0+x1)/2).attr("y",row.y1+73).attr("text-anchor","middle")
      .attr("font-family",FONT).attr("font-size",25).text("Coagulation Radius (mm)");
    if(!row.zero){
      g.append("text").attr("x",(x0+x1)/2).attr("y",/[gjpqy]/.test(m)?38.3:42.2).attr("text-anchor","middle")
        .attr("font-family",FONT).attr("font-size",27).attr("font-weight","bold").text(m);
    }
  });
});

// y labels for row (a)
svg.append("text").attr("transform","translate(33,276) rotate(-90)").attr("text-anchor","middle")
  .attr("font-family",FONT).attr("font-size",25).text("Normalized Photovoltage");
const frac = svg.append("g").attr("font-family","'Liberation Serif', 'DejaVu Serif', serif").attr("font-style","italic").attr("font-size",30);
const num = frac.append("text").attr("x",4).attr("y",858);
num.append("tspan").text("dV");
num.append("tspan").attr("font-size",21).attr("dy",5).text("p");
frac.append("line").attr("x1",2).attr("x2",52).attr("y1",872).attr("y2",872).attr("stroke","#000").attr("stroke-width",1.6);
frac.append("text").attr("x",26).attr("y",900).attr("text-anchor","middle").text("dt");

// panel labels
[["(a)",3,29],["(b)",41,1312],["(c)",920,1312]].forEach(t=>{
  svg.append("text").attr("x",t[1]).attr("y",t[2]).attr("font-family",FONT).attr("font-size",30)
    .attr("font-weight","bold").text(t[0]);
});

// legend
seriesLabels.forEach((lab,i)=>{
  const sx = 216 + i*359.5;
  svg.append("line").attr("x1",sx).attr("x2",sx+131).attr("y1",1235.5).attr("y2",1235.5)
    .attr("stroke",colors[i]).attr("stroke-width",5);
  svg.append("text").attr("x",sx+151).attr("y",1243.5).attr("font-family",FONT).attr("font-size",25).text(lab);
});

// ---------- (b) ----------
{
  const bx0=168.3, bx1=816.7, by0=1313.8, by1=1721.8;
  const x = d3.scaleLinear().domain(scatterDomain).range([bx0,bx1]);
  const y = d3.scaleLinear().domain(scatterDomain).range([by1,by0]);
  const g = svg.append("g");
  const cg = g.append("g").attr("clip-path",clip(bx0,by0,bx1-bx0,by1-by0));
  refOffsets.forEach(off=>{
    cg.append("line").attr("x1",x(scatterDomain[0])).attr("y1",y(scatterDomain[0]+off))
      .attr("x2",x(scatterDomain[1])).attr("y2",y(scatterDomain[1]+off))
      .attr("stroke","#111").attr("stroke-width",1.6)
      .attr("stroke-dasharray", off===0 ? "5.5,2.5" : "10,2.5,2,2.5");
  });
  const shapes = [
    (s,px,py)=>s.append("circle").attr("cx",px).attr("cy",py).attr("r",9).attr("fill",colors[0]).attr("stroke","#222").attr("stroke-width",1.2),
    (s,px,py)=>s.append("rect").attr("x",px-8.5).attr("y",py-8.5).attr("width",17).attr("height",17).attr("fill",colors[1]).attr("stroke","#222").attr("stroke-width",1.2),
    (s,px,py)=>s.append("path").attr("d",`M${px},${py-10}L${px+9.5},${py+8.5}L${px-9.5},${py+8.5}Z`).attr("fill",colors[2]).attr("stroke","#222").attr("stroke-width",1.2),
    (s,px,py)=>s.append("path").attr("d",`M${px-8.5},${py-8.5}L${px+8.5},${py+8.5}M${px+8.5},${py-8.5}L${px-8.5},${py+8.5}`).attr("stroke",colors[3]).attr("stroke-width",4.6).attr("fill","none")
  ];
  [estBallistic,estBackscatter,estRadial,estIsotropic].forEach((est,mi)=>{
    est.forEach((v,k)=>{ if(v!==null) shapes[mi](g,x(trueRadius[k]),y(v)); });
  });
  g.append("g").attr("transform",`translate(0,${by1})`)
    .call(d3.axisBottom(x).tickValues(scatterTicks).tickFormat(d3.format("d")).tickSize(10).tickSizeOuter(0).tickPadding(12)).call(styleAxis);
  g.append("g").attr("transform",`translate(${bx0},0)`)
    .call(d3.axisLeft(y).tickValues(scatterTicks).tickFormat(d3.format("d")).tickSize(10).tickSizeOuter(0).tickPadding(9)).call(styleAxis);
  frame(g,bx0,by0,bx1-bx0,by1-by0);
  g.append("text").attr("x",(bx0+bx1)/2).attr("y",by1+72).attr("text-anchor","middle")
    .attr("font-family",FONT).attr("font-size",25).text("True Coagulation Radius (mm)");
  g.append("text").attr("transform",`translate(91,${(by0+by1)/2}) rotate(-90)`).attr("text-anchor","middle")
    .attr("font-family",FONT).attr("font-size",25).text("Algorithm Coagulation");
  g.append("text").attr("transform",`translate(119,${(by0+by1)/2}) rotate(-90)`).attr("text-anchor","middle")
    .attr("font-family",FONT).attr("font-size",25).text("Radius (mm)");
  methods.forEach((m,i)=>{
    const ly = 1573.6 + i*37.4;
    shapes[i](g,615.6,ly);
    g.append("text").attr("x",644).attr("y",ly+9).attr("font-family",FONT).attr("font-size",25).text(m);
  });
}

// ---------- (c) ----------
{
  const cx0=1038.3, cx1=1691.7, cy0=1314, cy1=1753.3;
  const barW = 0.35;
  const x = d3.scaleLinear().domain([-0.349, methods.length-1+0.349]).range([cx0,cx1]);
  const y = d3.scaleLinear().domain(errDomain).range([cy1,cy0]);
  const g = svg.append("g");
  methods.forEach((m,i)=>{
    g.append("rect").attr("x",x(i-barW/2)).attr("width",x(i+barW/2)-x(i-barW/2))
      .attr("y",y(errMean[i])).attr("height",y(0)-y(errMean[i])).attr("fill",colors[0]);
  });
  methods.forEach((m,i)=>{
    const cx = x(i), lo = y(errMean[i]-errStd[i]), hi = y(errMean[i]+errStd[i]);
    g.append("line").attr("x1",cx).attr("x2",cx).attr("y1",lo).attr("y2",hi).attr("stroke","#000").attr("stroke-width",4);
    [lo,hi].forEach(yy=>g.append("line").attr("x1",cx-18).attr("x2",cx+18).attr("y1",yy).attr("y2",yy).attr("stroke","#000").attr("stroke-width",4));
  });
  g.append("g").attr("transform",`translate(0,${cy1})`)
    .call(d3.axisBottom(x).tickValues(d3.range(methods.length)).tickFormat(i=>methods[i]).tickSize(10).tickSizeOuter(0).tickPadding(12)).call(styleAxis);
  g.append("g").attr("transform",`translate(${cx0},0)`)
    .call(d3.axisLeft(y).tickValues(errTicks).tickFormat(d3.format(".1f")).tickSize(10).tickSizeOuter(0).tickPadding(9)).call(styleAxis);
  frame(g,cx0,cy0,cx1-cx0,cy1-cy0);
  g.append("text").attr("transform",`translate(962,${(cy0+cy1)/2}) rotate(-90)`).attr("text-anchor","middle")
    .attr("font-family",FONT).attr("font-size",25).text("Absolute Error (mm)");
}
</script>
</body></html>
